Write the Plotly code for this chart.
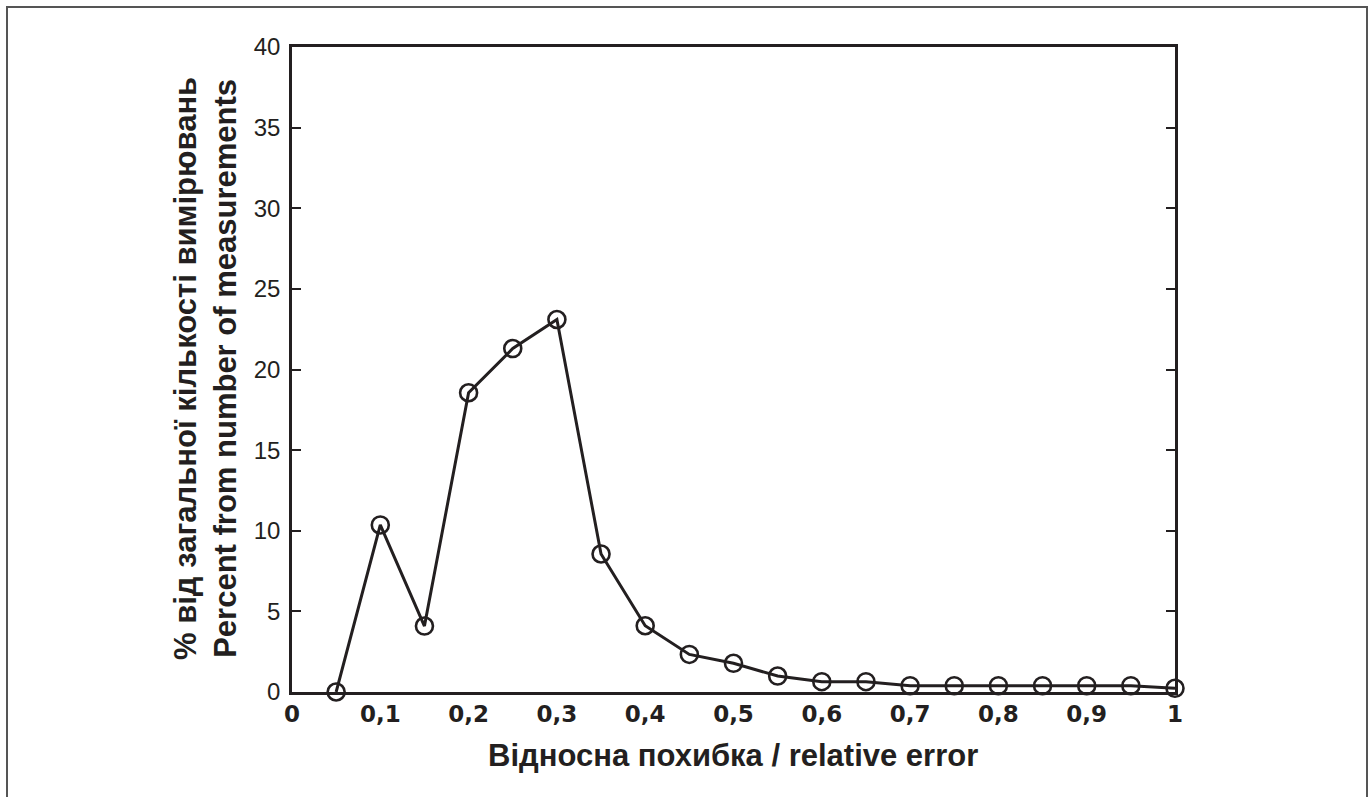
import plotly.graph_objects as go

rel_error = [0.05, 0.10, 0.15, 0.20, 0.25, 0.30, 0.35, 0.40, 0.45, 0.50,
             0.55, 0.60, 0.65, 0.70, 0.75, 0.80, 0.85, 0.90, 0.95, 1.00]
percent = [0.0, 10.36, 4.09, 18.56, 21.3, 23.1, 8.56, 4.11, 2.33, 1.78,
           0.99, 0.64, 0.64, 0.39, 0.39, 0.39, 0.39, 0.39, 0.39, 0.23]

x_tickvals = [0, 0.1, 0.2, 0.3, 0.4, 0.5, 0.6, 0.7, 0.8, 0.9, 1]
x_ticktext = ["0", "0,1", "0,2", "0,3", "0,4", "0,5", "0,6", "0,7", "0,8", "0,9", "1"]
y_tickvals = [0, 5, 10, 15, 20, 25, 30, 35, 40]

x_title = "Відносна похибка / relative error"
y_title = "% від загальної кількості вимірювань<br>Percent from number of measurements"

ink = "#231f20"

fig = go.Figure()
fig.add_trace(go.Scatter(
    x=rel_error, y=percent, mode="lines+markers",
    line=dict(color=ink, width=3),
    marker=dict(symbol="circle-open", size=17, color=ink, line=dict(width=2.6, color=ink)),
    cliponaxis=False, showlegend=False,
))

L, R, T, B = 292, 1175, 47, 692
W, H = 1370, 797
pw, ph = R - L, B - T

fig.update_layout(
    width=W, height=H,
    margin=dict(l=L, r=W - R, t=T, b=H - B, pad=0),
    paper_bgcolor="white", plot_bgcolor="white",
    font=dict(family="Liberation Sans, Arial, sans-serif", color=ink),
)
fig.update_xaxes(
    range=[0, 1], tickvals=x_tickvals, ticktext=x_ticktext,
    showgrid=False, zeroline=False, ticks="",
    showline=True, linecolor=ink, linewidth=2.5, mirror=True,
    tickfont=dict(family="DejaVu Sans", size=23, color=ink, weight="bold"),
    ticklabelstandoff=0,
)
fig.update_yaxes(
    range=[0, 40], tickvals=y_tickvals,
    showgrid=False, zeroline=False,
    ticks="inside", ticklen=9, tickwidth=1.5, tickcolor=ink,
    showline=True, linecolor=ink, linewidth=2.5, mirror="ticks",
    tickfont=dict(family="Liberation Sans", size=24, color=ink),
    ticklabelstandoff=4,
)

fig.add_annotation(
    text=x_title, xref="paper", yref="paper",
    x=(733 - L) / pw, y=(B - 755) / ph, xanchor="center", yanchor="middle",
    showarrow=False, font=dict(family="Liberation Sans", size=31, color=ink, weight="bold"),
)
fig.add_annotation(
    text=y_title, xref="paper", yref="paper",
    x=(205 - L) / pw, y=(B - 369) / ph, xanchor="center", yanchor="middle",
    textangle=-90, showarrow=False,
    font=dict(family="Liberation Sans", size=31, color=ink, weight="bold"),
)

# outer frame
fig.add_shape(
    type="rect", xref="paper", yref="paper",
    x0=(7 - L) / pw, x1=(1367 - L) / pw, y0=(B - 820) / ph, y1=(B - 7) / ph,
    line=dict(color="#555555", width=2), fillcolor="rgba(0,0,0,0)", layer="below",
)

fig.write_html(
    "out.html",
    config={"displayModeBar": False},
    post_script="document.body.style.margin='0';document.body.style.overflow='hidden';",
)
